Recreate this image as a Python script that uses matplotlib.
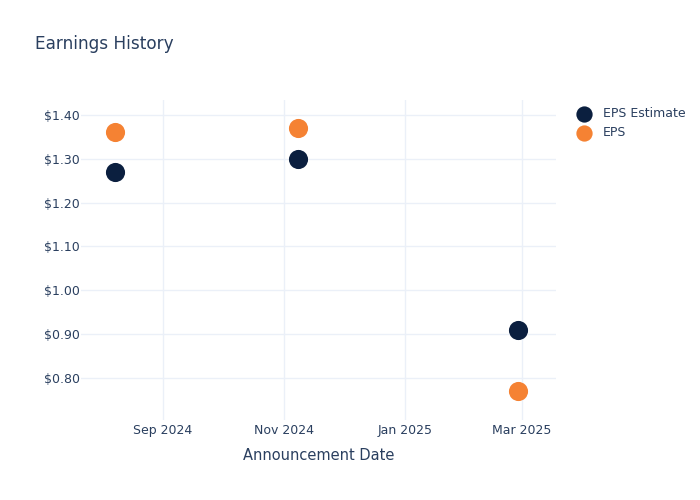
import matplotlib
matplotlib.use("Agg")
import matplotlib.pyplot as plt
import pandas as pd

# Earnings announcement data
dates = pd.to_datetime(["2024-08-08", "2024-11-08", "2025-02-27"])
eps_estimate = [1.27, 1.30, 0.91]
eps_actual = [1.36, 1.37, 0.77]

tick_dates = pd.to_datetime(["2024-09-01", "2024-11-01", "2025-01-01", "2025-03-01"])
tick_labels = ["Sep 2024", "Nov 2024", "Jan 2025", "Mar 2025"]
y_ticks = [0.80, 0.90, 1.00, 1.10, 1.20, 1.30, 1.40]

text_col = "#2a3f5f"
grid_col = "#ebf0f8"

fig = plt.figure(figsize=(7, 5), dpi=100)
ax = fig.add_axes([0.116, 0.16, 0.678, 0.64])

ax.scatter(dates, eps_estimate, s=190, color="#0b1f3f", label="EPS Estimate", zorder=3, linewidths=0)
ax.scatter(dates, eps_actual, s=190, color="#f58233", label="EPS", zorder=3, linewidths=0)

ax.set_xlim(pd.Timestamp("2024-07-22"), pd.Timestamp("2025-03-18"))
ax.set_ylim(0.704, 1.434)
ax.set_xticks(tick_dates)
ax.set_xticklabels(tick_labels)
ax.set_yticks(y_ticks)
ax.set_yticklabels([f"${v:.2f}" for v in y_ticks])

ax.grid(True, color=grid_col, linewidth=1)
ax.set_axisbelow(True)
for sp in ax.spines.values():
    sp.set_visible(False)
ax.tick_params(length=0, labelsize=9, colors=text_col)
ax.tick_params(axis="x", pad=3)
ax.tick_params(axis="y", pad=1)

ax.set_xlabel("Announcement Date", fontsize=10.5, color=text_col, labelpad=8)
fig.text(0.05, 0.912, "Earnings History", fontsize=12.2, color=text_col, va="center")

leg = ax.legend(loc="upper left", bbox_to_anchor=(1.01, 1.012), frameon=False,
                fontsize=9, labelcolor=text_col, handletextpad=0.5,
                markerscale=0.85, labelspacing=0.45)

plt.savefig("out.png", dpi=100)
